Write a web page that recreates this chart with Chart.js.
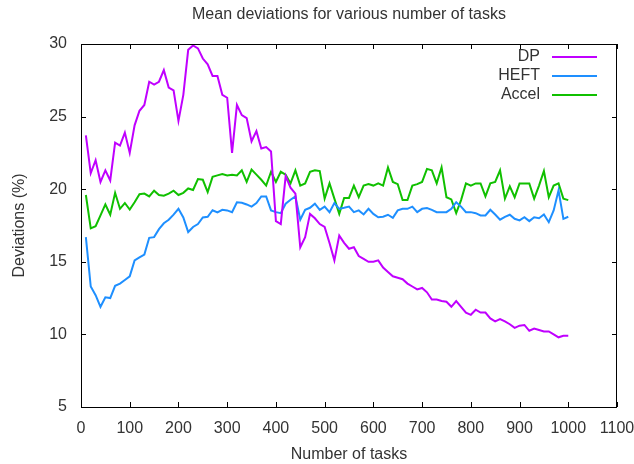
<!DOCTYPE html>
<html>
<head>
<meta charset="utf-8">
<script src="https://cdn.jsdelivr.net/npm/chart.js@4/dist/chart.umd.min.js"></script>
<style>
  body { margin: 0; background: #fff; }
  #wrap { width: 634px; height: 464px; }
</style>
</head>
<body>
<div id="wrap"><canvas id="devChart" width="634" height="464"></canvas></div>
<script>
// number of tasks (x)
const tasks = [10, 20, 30, 40, 50, 60, 70, 80, 90, 100,
  110, 120, 130, 140, 150, 160, 170, 180, 190, 200,
  210, 220, 230, 240, 250, 260, 270, 280, 290, 300,
  310, 320, 330, 340, 350, 360, 370, 380, 390, 400,
  410, 420, 430, 440, 450, 460, 470, 480, 490, 500,
  510, 520, 530, 540, 550, 560, 570, 580, 590, 600,
  610, 620, 630, 640, 650, 660, 670, 680, 690, 700,
  710, 720, 730, 740, 750, 760, 770, 780, 790, 800,
  810, 820, 830, 840, 850, 860, 870, 880, 890, 900,
  910, 920, 930, 940, 950, 960, 970, 980, 990, 1000];

const dp = [23.7, 21.1, 22.0, 20.5, 21.3, 20.6, 23.2, 23.0, 23.9, 22.5,
  24.4, 25.4, 25.8, 27.4, 27.2, 27.4, 28.2, 27.0, 26.8, 24.7,
  26.5, 29.6, 29.9, 29.7, 29.0, 28.6, 27.8, 27.8, 26.5, 26.3,
  22.5, 25.8, 25.1, 24.9, 23.3, 24.0, 22.8, 22.9, 22.6, 17.8,
  17.6, 20.9, 20.1, 19.7, 16.0, 16.7, 18.3, 18.0, 17.6, 17.4,
  16.3, 15.1, 16.8, 16.3, 15.9, 16.0, 15.4, 15.2, 15.0, 15.0,
  15.1, 14.6, 14.3, 14.0, 13.9, 13.8, 13.5, 13.3, 13.1, 13.2,
  12.9, 12.4, 12.4, 12.3, 12.25, 11.9, 12.3, 11.9, 11.5, 11.35,
  11.7, 11.5, 11.5, 11.1, 10.9, 11.05, 10.9, 10.7, 10.45, 10.6,
  10.65, 10.25, 10.4, 10.3, 10.2, 10.2, 10.0, 9.8, 9.9, 9.9];

const heft = [16.7, 13.3, 12.7, 11.9, 12.55, 12.5, 13.35, 13.5, 13.75, 14.0,
  15.1, 15.3, 15.5, 16.65, 16.7, 17.25, 17.65, 17.9, 18.25, 18.65,
  18.05, 17.05, 17.4, 17.6, 18.05, 18.1, 18.55, 18.4, 18.58, 18.54,
  18.42, 19.1, 19.07, 18.95, 18.8, 19.04, 19.5, 19.5, 18.54, 18.42,
  18.35, 19.0, 19.27, 19.5, 17.9, 18.58, 18.72, 19.0, 18.58, 18.8,
  18.42, 19.05, 18.65, 18.72, 18.8, 18.42, 18.54, 18.26, 18.65, 18.3,
  18.07, 18.1, 18.24, 18.03, 18.54, 18.65, 18.65, 18.8, 18.42, 18.65,
  18.7, 18.58, 18.42, 18.42, 18.42, 18.65, 19.1, 18.8, 18.42, 18.42,
  18.35, 18.19, 18.19, 18.58, 18.26, 17.9, 18.1, 18.24, 17.96, 17.85,
  18.07, 17.8, 18.07, 18.0, 18.26, 17.73, 18.54, 19.92, 17.96, 18.1];

const accel = [19.6, 17.3, 17.45, 18.2, 18.95, 18.25, 19.75, 18.65, 19.05, 18.6,
  19.1, 19.65, 19.7, 19.5, 19.9, 19.6, 19.55, 19.7, 19.9, 19.6,
  19.75, 20.05, 19.95, 20.7, 20.65, 19.8, 20.85, 20.95, 21.05, 20.95,
  21.0, 20.95, 21.3, 20.5, 21.35, 21.0, 20.65, 20.25, 21.2, 20.5,
  21.2, 21.0, 20.4, 21.3, 20.25, 20.4, 21.2, 21.3, 21.25, 19.35,
  20.4, 19.35, 18.3, 19.4, 19.4, 20.25, 19.45, 20.25, 20.35, 20.25,
  20.4, 20.25, 21.5, 20.5, 20.35, 19.25, 19.25, 20.25, 20.35, 20.5,
  21.4, 21.3, 20.4, 21.5, 19.45, 19.3, 18.35, 19.25, 20.4, 20.25,
  20.4, 20.4, 19.5, 20.4, 20.5, 21.3, 19.35, 20.2, 19.45, 20.4,
  20.4, 20.4, 19.35, 20.25, 21.25, 19.45, 20.25, 20.4, 19.35, 19.25];

const seriesNames = ["DP", "HEFT", "Accel"];
const seriesColors = ["#c000ff", "#1e8fff", "#10c000"];
const chartTitle = "Mean deviations for various number of tasks";

const FONT = "'Liberation Sans', Arial, sans-serif";
const TEXT = "#333333";

function pts(vals) {
  return tasks.map((t, i) => ({ x: t, y: vals[i] }));
}

// gnuplot style border with inward ticks, title over the plot and the key
const frame = {
  id: "frame",
  afterDraw(chart) {
    const { ctx, chartArea: a, scales } = chart;
    ctx.save();
    ctx.strokeStyle = "#000";
    ctx.lineWidth = 1;
    ctx.strokeRect(Math.round(a.left) + 0.5, Math.round(a.top) + 0.5,
      Math.round(a.right - a.left) - 1, Math.round(a.bottom - a.top));
    const tl = 5;
    ctx.beginPath();
    scales.x.ticks.forEach(t => {
      const px = Math.round(scales.x.getPixelForValue(t.value)) + 0.5;
      ctx.moveTo(px, a.bottom); ctx.lineTo(px, a.bottom - tl);
      ctx.moveTo(px, a.top); ctx.lineTo(px, a.top + tl);
    });
    scales.y.ticks.forEach(t => {
      const py = Math.round(scales.y.getPixelForValue(t.value)) + 0.5;
      ctx.moveTo(a.left, py); ctx.lineTo(a.left + tl, py);
      ctx.moveTo(a.right, py); ctx.lineTo(a.right - tl, py);
    });
    ctx.stroke();

    ctx.font = "16px " + FONT;
    ctx.fillStyle = TEXT;
    ctx.textAlign = "center";
    ctx.textBaseline = "middle";
    ctx.fillText(chartTitle, (a.left + a.right) / 2, 15);

    // key: label on the left, line sample on the right
    ctx.textAlign = "right";
    chart.data.datasets.forEach((ds, i) => {
      const y = a.top + 13 + i * 19;
      ctx.fillStyle = TEXT;
      ctx.fillText(ds.label, a.right - 77, y);
      ctx.strokeStyle = ds.borderColor;
      ctx.lineWidth = 2;
      ctx.beginPath();
      ctx.moveTo(a.right - 65, y);
      ctx.lineTo(a.right - 20, y);
      ctx.stroke();
    });
    ctx.restore();
  }
};

new Chart(document.getElementById("devChart"), {
  type: "line",
  data: {
    datasets: [
      { label: seriesNames[0], data: pts(dp), borderColor: seriesColors[0] },
      { label: seriesNames[1], data: pts(heft), borderColor: seriesColors[1] },
      { label: seriesNames[2], data: pts(accel), borderColor: seriesColors[2] }
    ]
  },
  options: {
    responsive: false,
    animation: false,
    layout: { padding: { left: 0, right: 17, top: 44, bottom: 0 } },
    elements: {
      line: { borderWidth: 2, tension: 0 },
      point: { radius: 0 }
    },
    plugins: {
      legend: { display: false },
      tooltip: { enabled: false },
      title: { display: false }
    },
    scales: {
      x: {
        type: "linear",
        min: 0, max: 1100,
        grid: { display: false, drawTicks: false },
        border: { display: false },
        ticks: { stepSize: 100, color: TEXT, padding: 12, maxRotation: 0,
          callback: v => String(v),
          font: { family: FONT, size: 16 } },
        title: { display: true, text: "Number of tasks", color: TEXT,
          font: { family: FONT, size: 16 }, padding: { top: 0, bottom: 0 } },
        afterFit(s) { s.height = 57; s.paddingLeft = 0; s.paddingRight = 0; }
      },
      y: {
        min: 5, max: 30,
        grid: { display: false, drawTicks: false },
        border: { display: false },
        ticks: { stepSize: 5, color: TEXT, padding: 14,
          font: { family: FONT, size: 16 } },
        title: { display: true, text: "Deviations (%)", color: TEXT,
          font: { family: FONT, size: 16 }, padding: { top: 10.4, bottom: 10.4 } },
        afterFit(s) { s.width = 81; s.paddingTop = 0; s.paddingBottom = 0; }
      }
    }
  },
  plugins: [frame]
});
</script>
</body>
</html>
